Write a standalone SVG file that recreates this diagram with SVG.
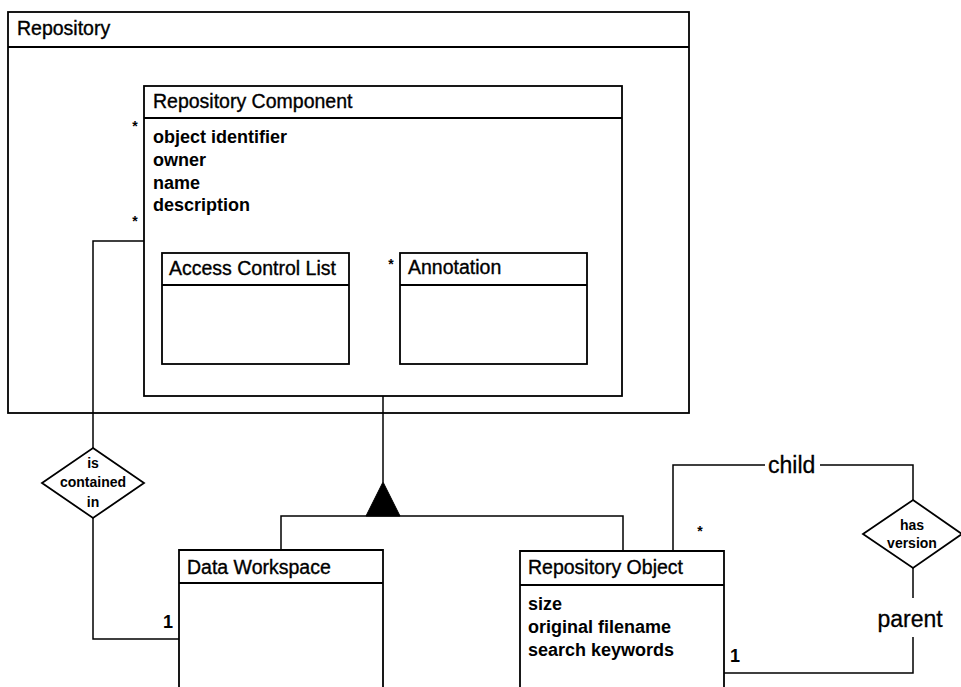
<svg xmlns="http://www.w3.org/2000/svg" width="961" height="687" viewBox="0 0 961 687">
  <style>
    .box { fill: #fff; stroke: #000; stroke-width: 1.8; }
    .sep { stroke: #000; stroke-width: 1.8; fill: none; }
    .wire { stroke: #000; stroke-width: 1.5; fill: none; }
    .title { font-family: "Liberation Sans", Arial, sans-serif; font-size: 19.5px; fill: #000; stroke: #000; stroke-width: 0.35; }
    .attr { font-family: "Liberation Sans", Arial, sans-serif; font-size: 18px; font-weight: bold; fill: #000; }
    .rel { font-family: "Liberation Sans", Arial, sans-serif; font-size: 14px; font-weight: bold; fill: #000; text-anchor: middle; }
    .role { font-family: "Liberation Sans", Arial, sans-serif; font-size: 23px; fill: #000; stroke: #000; stroke-width: 0.3; }
    .mult { font-family: "Liberation Sans", Arial, sans-serif; font-size: 18px; font-weight: bold; fill: #000; text-anchor: middle; }
    .star { font-family: "Liberation Sans", Arial, sans-serif; font-size: 14px; font-weight: bold; fill: #000; text-anchor: middle; }
  </style>

  <!-- outer container -->
  <g id="repository">
    <rect class="box" x="8" y="12" width="681" height="401"/>
    <line class="sep" x1="8" y1="47" x2="689" y2="47"/>
    <text class="title" x="17" y="35">Repository</text>
  </g>

  <g id="repository-component">
    <rect class="box" x="144" y="86" width="478" height="310"/>
    <line class="sep" x1="144" y1="118" x2="622" y2="118"/>
    <text class="title" x="153" y="108">Repository Component</text>
    <text class="attr" x="153" y="143">object identifier</text>
    <text class="attr" x="153" y="166">owner</text>
    <text class="attr" x="153" y="189">name</text>
    <text class="attr" x="153" y="211">description</text>
  </g>

  <g id="access-control-list">
    <rect class="box" x="162" y="253" width="187" height="111"/>
    <line class="sep" x1="162" y1="285" x2="349" y2="285"/>
    <text class="title" x="169" y="275">Access Control List</text>
  </g>

  <g id="annotation">
    <rect class="box" x="400" y="253" width="187" height="111"/>
    <line class="sep" x1="400" y1="285" x2="587" y2="285"/>
    <text class="title" x="408" y="274">Annotation</text>
  </g>

  <g id="data-workspace">
    <path class="box" d="M179,700 V550 H383 V700"/>
    <line class="sep" x1="179" y1="583" x2="383" y2="583"/>
    <text class="title" x="187" y="574">Data Workspace</text>
  </g>

  <g id="repository-object">
    <path class="box" d="M520,700 V551 H724 V700"/>
    <line class="sep" x1="520" y1="585" x2="724" y2="585"/>
    <text class="title" x="528" y="574">Repository Object</text>
    <text class="attr" x="528" y="610">size</text>
    <text class="attr" x="528" y="633">original filename</text>
    <text class="attr" x="528" y="656">search keywords</text>
  </g>

  <g id="connectors">
    <!-- is contained in -->
    <polyline class="wire" points="144,241 93,241 93,448"/>
    <polyline class="wire" points="93,518 93,639 179,639"/>
    <!-- generalization -->
    <line class="wire" x1="383" y1="396" x2="383" y2="482"/>
    <polygon points="383,482 366,516 400,516" fill="#000" stroke="#000" stroke-width="1"/>
    <polyline class="wire" points="281,550 281,516 623,516 623,551"/>
    <!-- has version: child -->
    <polyline class="wire" points="673,551 673,465 765,465"/>
    <polyline class="wire" points="820,465 913,465 913,500"/>
    <!-- has version: parent -->
    <line class="wire" x1="913" y1="568" x2="913" y2="598"/>
    <polyline class="wire" points="913,637 913,673 724,673"/>
  </g>

  <g id="is-contained-in">
    <polygon class="box" points="93,448 144,483 93,518 42,483"/>
    <text class="rel" x="93" y="468">is</text>
    <text class="rel" x="93" y="487">contained</text>
    <text class="rel" x="93" y="507">in</text>
  </g>

  <g id="has-version">
    <polygon class="box" points="913,500 962,534 913,568 863,534"/>
    <text class="rel" x="912" y="530">has</text>
    <text class="rel" x="912" y="548">version</text>
  </g>

  <g id="labels">
    <text class="role" x="768" y="473">child</text>
    <text class="role" x="910" y="627" text-anchor="middle">parent</text>
    <text class="star" x="135" y="131">*</text>
    <text class="star" x="135" y="226">*</text>
    <text class="star" x="391" y="269">*</text>
    <text class="star" x="700" y="536">*</text>
    <text class="mult" x="168" y="628">1</text>
    <text class="mult" x="735" y="662">1</text>
  </g>
</svg>
